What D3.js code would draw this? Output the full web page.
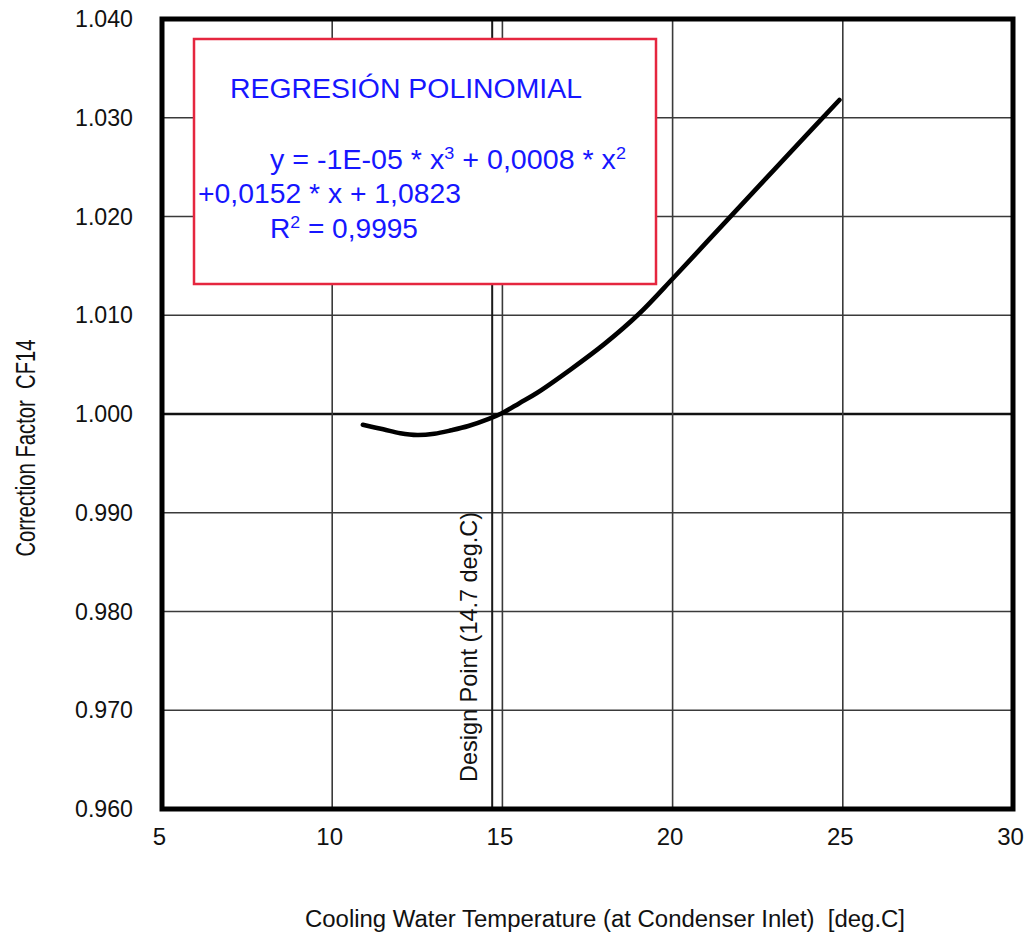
<!DOCTYPE html>
<html>
<head>
<meta charset="utf-8">
<script src="https://cdn.jsdelivr.net/npm/d3@7"></script>
<style>
  body { margin: 0; background: #fff; }
  svg { display: block; }
  text { font-family: Arial, "Liberation Sans", sans-serif; white-space: pre; }
</style>
</head>
<body>
<svg id="chart" width="1028" height="937"></svg>
<script>
// Correction factor CF14 vs cooling water temperature (condenser inlet)
const temperature      = [10.9, 11.5, 12.0, 12.5, 13.0, 13.5, 14.0, 14.6, 15.0, 15.5, 16.0, 17.0, 18.0, 19.0, 20.0, 21.0, 22.0, 23.0, 24.0, 24.9];
const correctionFactor = [0.9989, 0.99845, 0.99805, 0.99787, 0.9980, 0.99835, 0.99878, 0.9995, 1.0001, 1.0011, 1.0021, 1.0045, 1.0071, 1.0101, 1.0137, 1.0174, 1.0211, 1.0248, 1.0285, 1.0318];

const xTicks = [5, 10, 15, 20, 25, 30];
const yTicks = [0.960, 0.970, 0.980, 0.990, 1.000, 1.010, 1.020, 1.030, 1.040];
const designPoint = 14.7;

const xTitle = "Cooling Water Temperature (at Condenser Inlet)  [deg.C]";
const yTitle = "Correction Factor  CF14";
const designLabel = "Design Point (14.7 deg.C)";
const boxTitle = "REGRESIÓN POLINOMIAL";

const svg = d3.select("#chart");
const plotL = 162, plotR = 1013, plotT = 19, plotB = 809;

const x = d3.scaleLinear().domain([5, 30]).range([plotL, plotR]);
const y = d3.scaleLinear().domain([0.96, 1.04]).range([plotB, plotT]);

svg.append("rect").attr("width", 1028).attr("height", 937).attr("fill", "#fff");

// grid lines
const grid = svg.append("g");
grid.selectAll("line.h")
  .data(yTicks.filter(v => v > 0.96 && v < 1.04))
  .join("line")
  .attr("x1", plotL).attr("x2", plotR)
  .attr("y1", d => y(d)).attr("y2", d => y(d))
  .attr("stroke", d => Math.abs(d - 1) < 1e-9 ? "#111" : "#3a3a3a")
  .attr("stroke-width", d => Math.abs(d - 1) < 1e-9 ? 2.6 : 1.5);
grid.selectAll("line.v")
  .data(xTicks.filter(v => v > 5 && v < 30))
  .join("line")
  .attr("x1", d => x(d)).attr("x2", d => x(d))
  .attr("y1", plotT).attr("y2", plotB)
  .attr("stroke", "#3a3a3a")
  .attr("stroke-width", 1.6);

// design point marker line
svg.append("line")
  .attr("x1", x(designPoint)).attr("x2", x(designPoint))
  .attr("y1", plotT).attr("y2", plotB)
  .attr("stroke", "#1a1a1a").attr("stroke-width", 2);

// y axis tick labels
const yAxis = d3.axisLeft(y).tickValues(yTicks).tickFormat(d3.format(".3f"))
  .tickSize(0).tickPadding(29);
const gy = svg.append("g").attr("transform", `translate(${plotL},0)`).call(yAxis);
gy.select(".domain").remove();
gy.selectAll("text")
  .attr("fill", "#111").attr("font-size", 24)
  .attr("font-family", "Arial, 'Liberation Sans', sans-serif")
  .attr("textLength", 58).attr("lengthAdjust", "spacingAndGlyphs");

// x axis tick labels
const xAxis = d3.axisBottom(x).tickValues(xTicks).tickFormat(d3.format("d"))
  .tickSize(0).tickPadding(19);
const gx = svg.append("g").attr("transform", `translate(0,${plotB})`).call(xAxis);
gx.select(".domain").remove();
gx.selectAll("text")
  .attr("fill", "#111").attr("font-size", 24).attr("dx", -3)
  .attr("font-family", "Arial, 'Liberation Sans', sans-serif");

// frame
svg.append("rect")
  .attr("x", plotL).attr("y", plotT)
  .attr("width", plotR - plotL).attr("height", plotB - plotT)
  .attr("fill", "none").attr("stroke", "#000").attr("stroke-width", 5);

// fitted curve
const pts = temperature.map((t, i) => [t, correctionFactor[i]]);
svg.append("path")
  .datum(pts)
  .attr("d", d3.line().x(d => x(d[0])).y(d => y(d[1])).curve(d3.curveCatmullRom))
  .attr("fill", "none").attr("stroke", "#000")
  .attr("stroke-width", 4.6).attr("stroke-linecap", "round");

// design point label
svg.append("text")
  .attr("transform", `translate(477,647) rotate(-90)`)
  .attr("text-anchor", "middle")
  .attr("font-size", 24).attr("fill", "#111")
  .attr("textLength", 270).attr("lengthAdjust", "spacingAndGlyphs")
  .text(designLabel);

// regression box
const box = svg.append("g");
box.append("rect")
  .attr("x", 194).attr("y", 39).attr("width", 462).attr("height", 245)
  .attr("fill", "#fff").attr("stroke", "#e5263f").attr("stroke-width", 2.5);

const blue = "#1616ff";
box.append("text")
  .attr("x", 230).attr("y", 98)
  .attr("font-size", 27).attr("fill", blue)
  .attr("textLength", 352).attr("lengthAdjust", "spacingAndGlyphs")
  .text(boxTitle);

const eq1 = box.append("text")
  .attr("x", 270).attr("y", 169)
  .attr("font-size", 27).attr("fill", blue)
  .attr("textLength", 356).attr("lengthAdjust", "spacingAndGlyphs");
eq1.append("tspan").text("y = -1E-05 * x");
eq1.append("tspan").attr("dy", -10).attr("font-size", 17).text("3");
eq1.append("tspan").attr("dy", 10).text(" + 0,0008 * x");
eq1.append("tspan").attr("dy", -10).attr("font-size", 17).text("2");

box.append("text")
  .attr("x", 198).attr("y", 203)
  .attr("font-size", 27).attr("fill", blue)
  .attr("textLength", 263).attr("lengthAdjust", "spacingAndGlyphs")
  .text("+0,0152 * x + 1,0823");

const eq3 = box.append("text")
  .attr("x", 270).attr("y", 238)
  .attr("font-size", 27).attr("fill", blue)
  .attr("textLength", 148).attr("lengthAdjust", "spacingAndGlyphs");
eq3.append("tspan").text("R");
eq3.append("tspan").attr("dy", -10).attr("font-size", 17).text("2");
eq3.append("tspan").attr("dy", 10).text(" = 0,9995");

// axis titles
svg.append("text")
  .attr("x", 305).attr("y", 927)
  .attr("font-size", 23).attr("fill", "#111")
  .attr("textLength", 600).attr("lengthAdjust", "spacingAndGlyphs")
  .text(xTitle);

svg.append("text")
  .attr("transform", `translate(35,448) rotate(-90)`)
  .attr("text-anchor", "middle")
  .attr("font-size", 28).attr("fill", "#111")
  .attr("textLength", 217).attr("lengthAdjust", "spacingAndGlyphs")
  .text(yTitle);
</script>
</body>
</html>
